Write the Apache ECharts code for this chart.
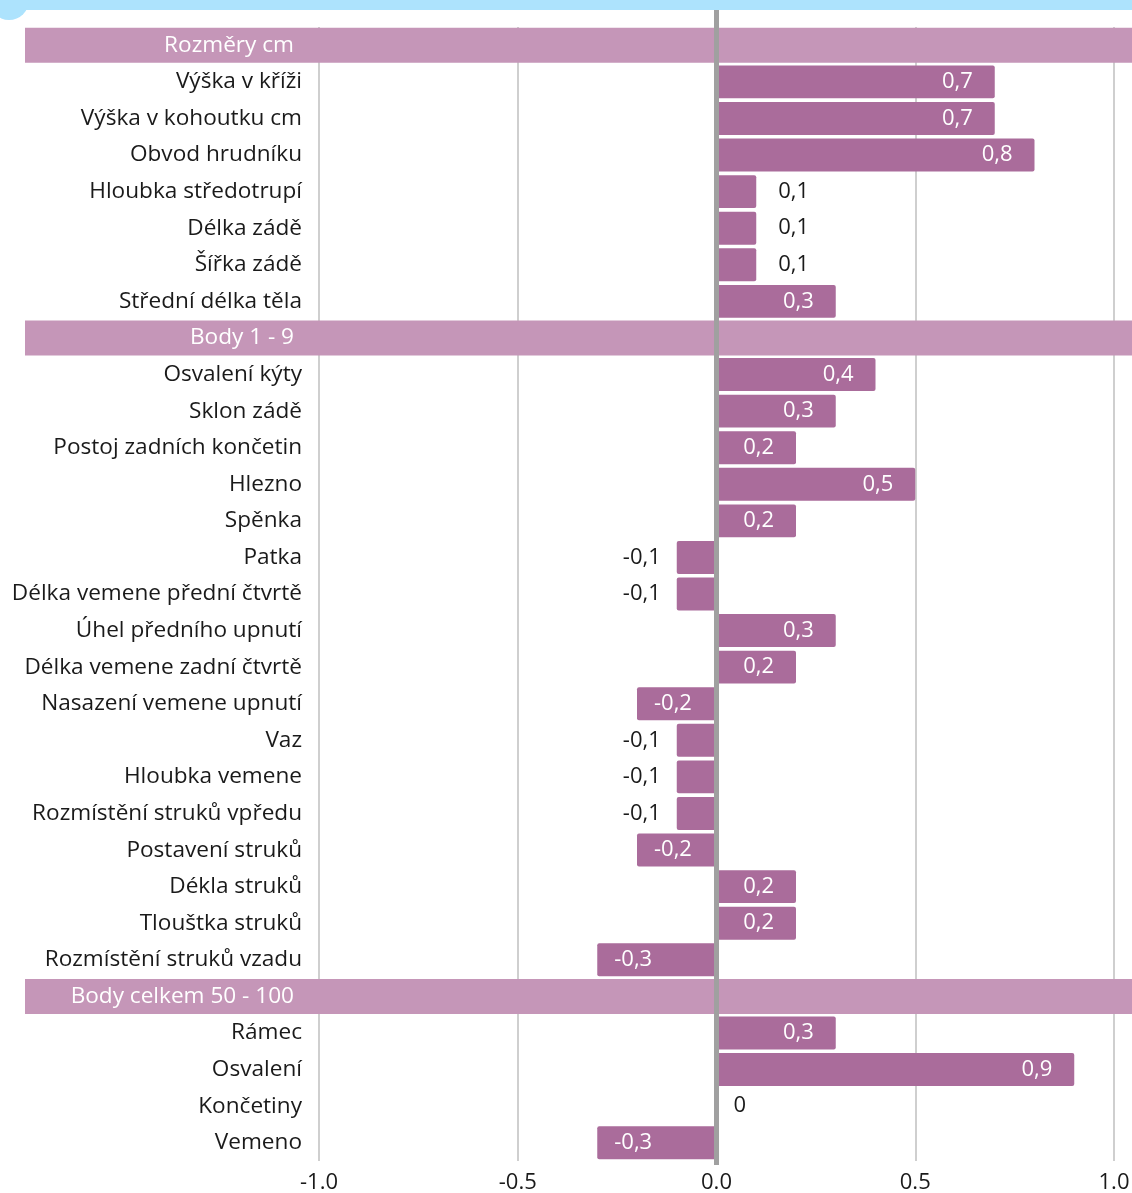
<!DOCTYPE html>
<html>
<head>
<meta charset="utf-8">
<script src="https://cdn.jsdelivr.net/npm/echarts@6/dist/echarts.min.js"></script>
<style>
  html, body { margin: 0; padding: 0; background: #fff; }
  #chart { width: 1132px; height: 1193px; }
</style>
</head>
<body>
<div id="chart"></div>
<script>
// skupiny (nadpisy řádků)
const headers = ['Rozměry cm', 'Body 1 - 9', 'Body celkem 50 - 100'];

const categories = [
  'Rozměry cm',
  'Výška v kříži', 'Výška v kohoutku cm', 'Obvod hrudníku', 'Hloubka středotrupí',
  'Délka zádě', 'Šířka zádě', 'Střední délka těla',
  'Body 1 - 9',
  'Osvalení kýty', 'Sklon zádě', 'Postoj zadních končetin', 'Hlezno', 'Spěnka', 'Patka',
  'Délka vemene přední čtvrtě', 'Úhel předního upnutí', 'Délka vemene zadní čtvrtě',
  'Nasazení vemene upnutí', 'Vaz', 'Hloubka vemene', 'Rozmístění struků vpředu',
  'Postavení struků', 'Dékla struků', 'Tlouštka struků', 'Rozmístění struků vzadu',
  'Body celkem 50 - 100',
  'Rámec', 'Osvalení', 'Končetiny', 'Vemeno'
];

const values = [
  null,
  0.7, 0.7, 0.8, 0.1, 0.1, 0.1, 0.3,
  null,
  0.4, 0.3, 0.2, 0.5, 0.2, -0.1, -0.1, 0.3, 0.2, -0.2, -0.1, -0.1, -0.1, -0.2, 0.2, 0.2, -0.3,
  null,
  0.3, 0.9, 0, -0.3
];

const xMin = -1.0;
const xMax = 1.0;
const xStep = 0.5;

const FONT = 'Open Sans';
const FS = 22;
const FS_CAT = 22.6;
const BAR = '#aa6c9b';
const HEAD = '#c596b8';

let chart = echarts.init(document.getElementById('chart'));

// popisky hodnot - velké uvnitř sloupce (bílé), malé vedle (černé)
function labelFor(v) {
  if (Math.abs(v) >= 0.2) {
    return { position: v > 0 ? 'insideRight' : 'insideLeft', distance: v > 0 ? 22 : 17, color: '#ffffff' };
  }
  if (v < 0) return { position: 'left', distance: 16, color: '#1a1a1a' };
  return { position: 'right', distance: v === 0 ? 17 : 22, color: '#1a1a1a' };
}

const barData = values.map(function (v) {
  if (v === null) return '-';
  return { value: v, label: labelFor(v) };
});

let option = {
  animation: false,
  backgroundColor: '#ffffff',
  grid: { left: 319, right: 18, top: 27, bottom: 32, outerBoundsMode: 'none' },
  xAxis: {
    type: 'value',
    min: xMin,
    max: xMax,
    interval: xStep,
    axisLine: { show: false },
    axisTick: { show: false },
    axisLabel: {
      margin: 11,
      fontSize: FS,
      fontFamily: FONT,
      color: '#1a1a1a',
      formatter: function (v) { return v.toFixed(1); }
    },
    splitLine: { show: true, lineStyle: { color: '#cfcfcf', width: 2 } }
  },
  yAxis: {
    type: 'category',
    inverse: true,
    data: categories,
    z: 1,
    axisLine: { show: false },
    axisTick: { show: false },
    splitLine: { show: false },
    axisLabel: {
      interval: 0,
      // kotva popisku na pravém okraji, aby pás nadpisu šel přes celou šířku
      margin: -(1132 - 319),
      align: 'right',
      formatter: function (v) {
        return headers.indexOf(v) >= 0 ? '{hdr|' + v + '}' : '{row|' + v + '}';
      },
      rich: {
        row: { fontSize: FS_CAT, fontFamily: FONT, color: '#1a1a1a', padding: [0, 830, 0, 0] },
        hdr: {
          fontSize: FS_CAT, fontFamily: FONT, color: '#ffffff', backgroundColor: HEAD,
          width: 269, height: 35, lineHeight: 35, align: 'right', padding: [0, 838, 0, 0]
        }
      }
    }
  },
  series: [
    {
      type: 'bar',
      data: barData,
      barCategoryGap: '10%',
      itemStyle: { color: BAR, borderRadius: 2 },
      label: {
        show: true,
        fontSize: FS,
        fontFamily: FONT,
        formatter: function (p) { return String(p.value).replace('.', ','); }
      }
    }
  ]
};

chart.setOption(option);

// modrý pruh nahoře + nulová čára přes celou výšku
const x0 = chart.convertToPixel({ xAxisIndex: 0 }, 0);
chart.setOption({
  graphic: [
    { type: 'rect', z: 10, shape: { x: 0, y: 0, width: 1132, height: 10 }, style: { fill: '#ade3fd' } },
    { type: 'circle', z: 10, shape: { cx: 9, cy: 0, r: 20 }, style: { fill: '#ade3fd' } },
    { type: 'line', z: 10, shape: { x1: x0, y1: 10, x2: x0, y2: 1165 }, style: { stroke: '#a0a0a0', lineWidth: 5 } }
  ]
});
</script>
</body>
</html>
